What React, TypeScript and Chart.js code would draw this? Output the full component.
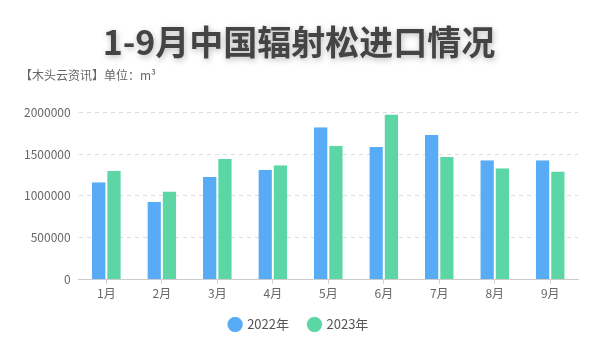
import React, { useEffect, useRef } from "react";
import { Chart, registerables } from "chart.js";

Chart.register(...registerables);

const months = ["1月", "2月", "3月", "4月", "5月", "6月", "7月", "8月", "9月"];
const values2022 = [1162000, 928000, 1226000, 1313000, 1819000, 1584000, 1727000, 1425000, 1425000];
const values2023 = [1298000, 1054000, 1441000, 1365000, 1600000, 1974000, 1465000, 1329000, 1293000];
const seriesNames = ["2022年", "2023年"];
const titleText = "1-9月中国辐射松进口情况";
const subtitleText = "【木头云资讯】单位：m³";

const FONT = "'Noto Sans CJK SC', 'Noto Sans', sans-serif";

const tweaks = {
  id: "tweaks",
  afterInit(chart: any) {
    const tb = chart.titleBlock;
    if (tb && !tb.__shadowed) {
      const orig = tb.draw.bind(tb);
      tb.draw = () => {
        const ctx = chart.ctx;
        ctx.save();
        ctx.shadowColor = "rgba(0,0,0,0.28)";
        ctx.shadowBlur = 6;
        ctx.shadowOffsetX = 1;
        ctx.shadowOffsetY = 2;
        orig();
        ctx.restore();
      };
      tb.__shadowed = true;
    }
  },
  afterLayout(chart: any) {
    const lg = chart.legend;
    if (lg) {
      lg.top -= 6;
      lg.bottom -= 6;
    }
  },
};

export default function App() {
  const ref = useRef<HTMLCanvasElement | null>(null);
  useEffect(() => {
    if (!ref.current) return;
    const chart = new Chart(ref.current, {
      type: "bar",
      data: {
        labels: months,
        datasets: [
          {
            label: seriesNames[0],
            data: values2022,
            backgroundColor: "#58abf5",
            borderColor: "#ffffff",
            borderWidth: { right: 1 } as any,
            borderSkipped: "bottom",
            categoryPercentage: 0.52,
            barPercentage: 1,
          },
          {
            label: seriesNames[1],
            data: values2023,
            backgroundColor: "#5cd6a5",
            borderColor: "#ffffff",
            borderWidth: { left: 1 } as any,
            borderSkipped: "bottom",
            categoryPercentage: 0.52,
            barPercentage: 1,
          },
        ],
      },
      plugins: [tweaks],
      options: {
        animation: false,
        responsive: false,
        maintainAspectRatio: false,
        layout: { padding: { top: 22, left: 20, right: 22, bottom: 13 } },
        plugins: {
          title: {
            display: true,
            text: titleText,
            color: "#444444",
            font: { family: FONT, size: 34, weight: "bold" },
            padding: { top: 0, bottom: 5 },
          },
          subtitle: {
            display: true,
            text: subtitleText,
            align: "start",
            color: "#666666",
            font: { family: FONT, size: 12 },
            padding: { top: 0, bottom: 30 },
          },
          legend: {
            position: "bottom",
            labels: {
              usePointStyle: true,
              pointStyle: "circle",
              boxWidth: 11,
              boxHeight: 11,
              padding: 20,
              color: "#555555",
              font: { family: FONT, size: 13 },
            },
          },
          tooltip: { enabled: false },
        },
        scales: {
          x: {
            grid: { display: true, drawOnChartArea: false, offset: false, tickLength: 4, color: "#cccccc" },
            border: { color: "#cccccc" },
            ticks: { color: "#666666", font: { family: FONT, size: 12 }, padding: 3 },
          },
          y: {
            min: 0,
            max: 2000000,
            afterFit: (scale: any) => {
              scale.width -= 4;
            },
            ticks: {
              stepSize: 500000,
              color: "#666666",
              font: { family: FONT, size: 12 },
              padding: 8,
              callback: (v: any) => String(v),
            },
            grid: { color: "#dddddd", drawTicks: false },
            border: { display: false, dash: [4, 4] },
          },
        },
      },
    });
    return () => chart.destroy();
  }, []);
  return (
    <div style={{ position: "fixed", left: 0, top: 0, width: 600, height: 360, background: "#fff" }}>
      <canvas ref={ref} width={600} height={360} />
    </div>
  );
}
